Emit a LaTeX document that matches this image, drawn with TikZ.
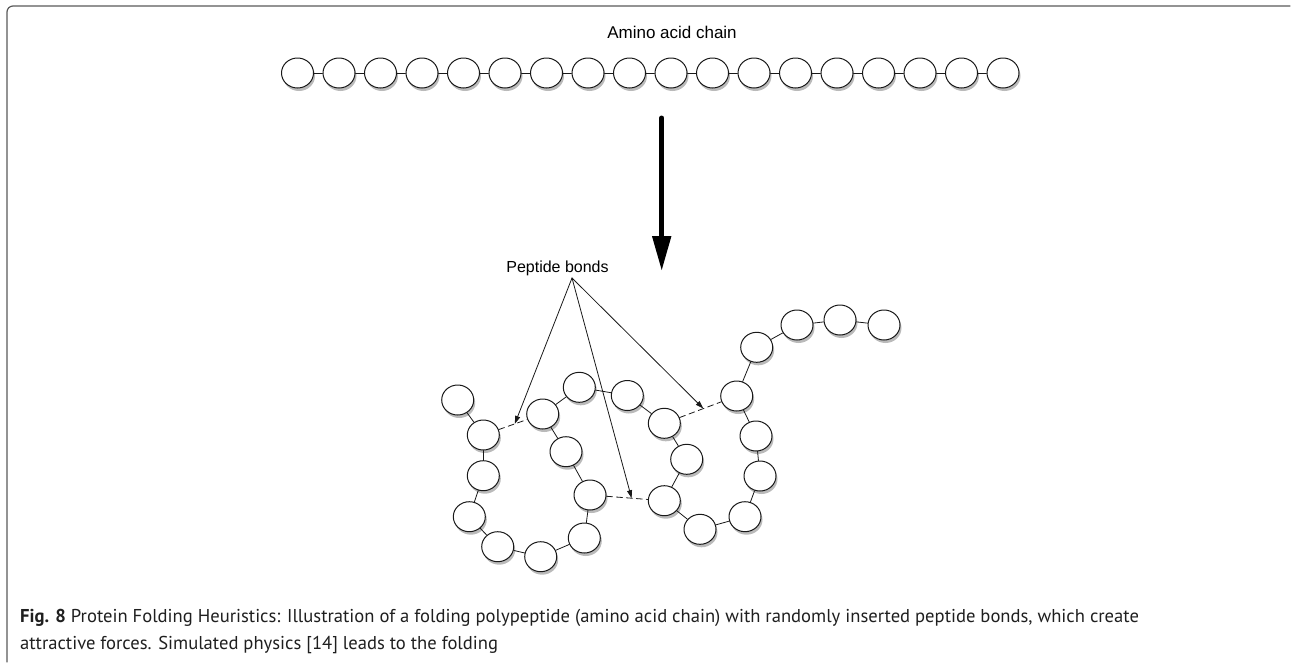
\documentclass[tikz,border=0pt]{standalone}
\usepackage{fontspec}
\setmainfont{Liberation Sans}
\newfontfamily\capfont{PT Sans}
\usetikzlibrary{arrows.meta,shapes.geometric,shadows,calc}

\tikzset{
  bead/.style={ellipse, draw=black!90, fill=white, line width=1pt,
    minimum width=32pt, minimum height=30pt, inner sep=0pt,
    drop shadow={shadow xshift=1.5pt, shadow yshift=-3pt, fill=black!60, opacity=0.45}},
  link/.style={line width=0.8pt, draw=black!90},
  bond/.style={line width=0.8pt, draw=black!90, dash pattern=on 6pt off 4pt},
  pointer/.style={line width=0.8pt, draw=black!90, -{Triangle[length=8pt,width=5pt]}},
}

\begin{document}
\begin{tikzpicture}[x=1pt, y=-1pt, line cap=round, line join=round]

  %% ════ frame ════
  \draw[line width=1.2pt, draw=black!65, rounded corners=6pt] (7,662) -- (7,6) -- (1290,6);

  %% ════ straight chain ════
  \node[font=\fontsize{17}{20}\selectfont] (chainlabel) at (672,32) {Amino acid chain};
  \foreach \i in {1,...,18}
    \node[bead] (a\i) at ({297.5+41.5*(\i-1)},73) {};
  \foreach \i in {1,...,17} {
    \pgfmathtruncatemacro\j{\i+1}
    \draw[link] (a\i) -- (a\j);
  }

  %% ════ fold arrow ════
  \coordinate (foldtop) at (661.7,118);
  \coordinate (foldtip) at (661.7,271);
  \draw[line width=5pt, -{Triangle[length=35pt,width=18pt]}] (foldtop) -- (foldtip);

  %% ════ folded chain ════
  \foreach \n/\x/\y in {1/457.7/400, 2/483.3/435, 3/483.3/475.7, 4/469.3/516.7,
      5/497.7/546.7, 6/540.7/556.7, 7/584.3/538, 8/590/495, 9/566/451.7,
      10/542.7/414, 11/579.3/387.3, 12/627.3/395.5, 13/664.3/423.3,
      14/686.7/459.3, 15/664.3/500.7, 16/700/529.3, 17/745/516.7, 18/760/476,
      19/756/436, 20/736.7/396, 21/756.7/347.3, 22/797/325, 23/840/320, 24/884/325}
    \node[bead] (f\n) at (\x,\y) {};
  \foreach \i in {1,...,23} {
    \pgfmathtruncatemacro\j{\i+1}
    \draw[link] (f\i) -- (f\j);
  }

  %% ════ peptide bonds ════
  \draw[bond] (f2) -- (f10);
  \draw[bond] (f8) -- (f15);
  \draw[bond] (f13) -- (f20);
  \coordinate (bond1) at ($(f2)!0.53!(f10)$);
  \coordinate (bond2) at ($(f8)!0.56!(f15)$);
  \coordinate (bond3) at ($(f13)!0.54!(f20)$);

  %% ════ label + pointers ════
  \node[font=\fontsize{16}{19}\selectfont] (bondlabel) at (557.5,268) {Peptide bonds};
  \coordinate (apex) at (572,278);
  \draw[pointer] (apex) -- (bond1);
  \draw[pointer] (apex) -- (bond2);
  \draw[pointer] (apex) -- (bond3);

  %% ════ caption ════
  \node[anchor=north west, align=left, inner sep=0pt, text=black!88,
        font=\capfont\fontsize{18.6}{27}\selectfont] (caption) at (20,609)
    {\textbf{Fig. 8} Protein Folding Heuristics: Illustration of a folding polypeptide (amino acid chain) with randomly inserted peptide bonds, which create\\
     attractive forces. Simulated physics [14] leads to the folding};

  \pgfresetboundingbox
  \path[use as bounding box] (0,0) rectangle (1292,662);
\end{tikzpicture}
\end{document}
